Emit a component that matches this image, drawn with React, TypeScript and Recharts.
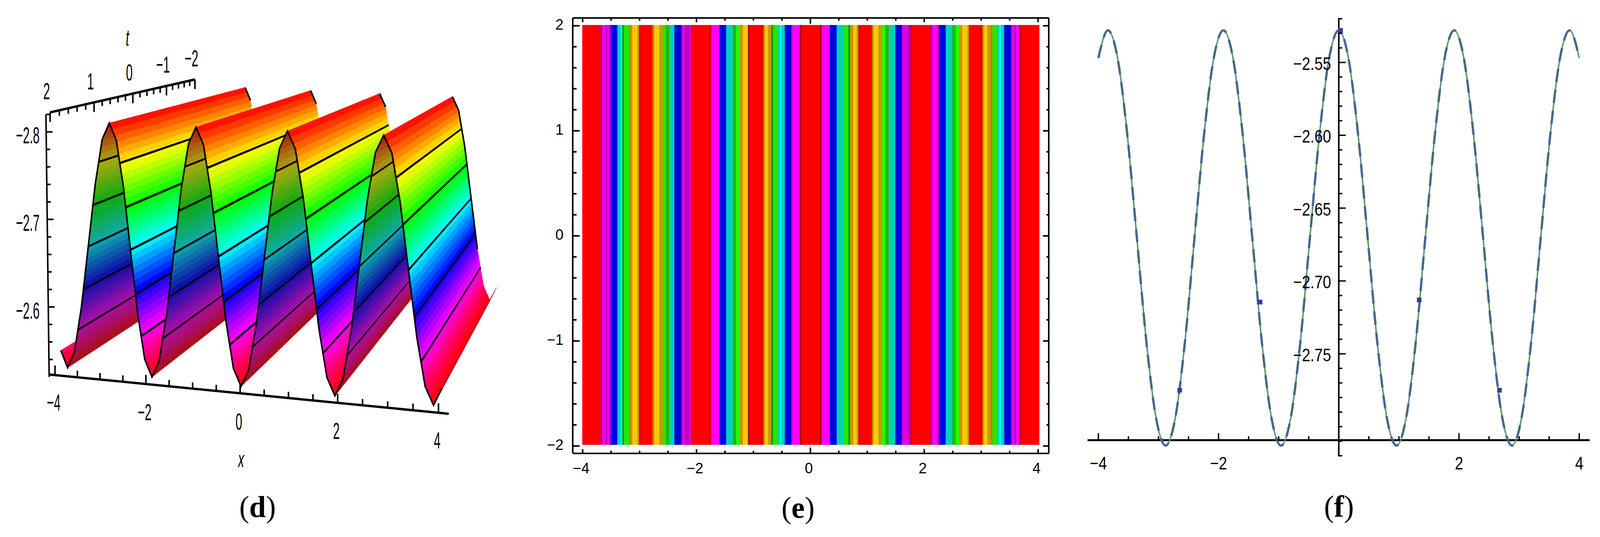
import { Area, ComposedChart, Line, ReferenceLine, Scatter, XAxis, YAxis } from "recharts";

// shared profile: u(x) at fixed t (d) and (f)
const profileX = [
  -4, -3.84, -3.68, -3.52, -3.36, -3.2, -3.04, -2.88, -2.72, -2.56, -2.4, -2.24, -2.08, -1.92, -1.76, -1.6, -1.44,
  -1.28, -1.12, -0.96, -0.8, -0.64, -0.48, -0.32, -0.16, 0, 0.16, 0.32, 0.48, 0.64, 0.8, 0.96, 1.12, 1.28, 1.44, 1.6,
  1.76, 1.92, 2.08, 2.24, 2.4, 2.56, 2.72, 2.88, 3.04, 3.2, 3.36, 3.52, 3.68, 3.84, 4,
];
const profileU = [
  -2.547, -2.528, -2.547, -2.599, -2.67, -2.742, -2.794, -2.813, -2.794, -2.742, -2.67, -2.599, -2.547, -2.528, -2.547,
  -2.599, -2.67, -2.742, -2.794, -2.813, -2.794, -2.742, -2.67, -2.599, -2.547, -2.528, -2.547, -2.599, -2.67, -2.742,
  -2.794, -2.813, -2.794, -2.742, -2.67, -2.599, -2.547, -2.528, -2.547, -2.599, -2.67, -2.742, -2.794, -2.813, -2.794,
  -2.742, -2.67, -2.599, -2.547, -2.528, -2.547,
];

// panel (d)
const dContours = [-2.768, -2.718, -2.67, -2.62, -2.573];
const dXTicks = [-4, -3.5, -3, -2.5, -2, -1.5, -1, -0.5, 0, 0.5, 1, 1.5, 2, 2.5, 3, 3.5, 4];
const dXLabels = [-4, -2, 0, 2, 4];
const dTTicks = [2, 1.8, 1.6, 1.4, 1.2, 1, 0.8, 0.6, 0.4, 0.2, 0, -0.2, -0.4, -0.6, -0.8, -1, -1.2, -1.4, -1.6, -1.8, -2];
const dTLabels = [2, 1, 0, -1, -2];
const dZTicks = [-2.82, -2.8, -2.78, -2.76, -2.74, -2.72, -2.7, -2.68, -2.66, -2.64, -2.62, -2.6, -2.58, -2.56, -2.54];
const dZLabels = [-2.8, -2.7, -2.6];
const dBackDepth = [0.12, 0.12, 0.13, 0.9];

// panel (e)
const stripeEdges = [
  -4.007, -3.686, -3.655, -3.596, -3.567, -3.538, -3.508, -3.392, -3.333, -3.304, -3.275, -3.185, -3.156, -3.127,
  -3.039, -3.009, -2.98, -2.776, -2.744, -2.655, -2.596, -2.535, -2.479, -2.389, -2.272, -2.243, -2.214, -2.124,
  -2.097, -1.771, -1.742, -1.598, -1.479, -1.362, -1.303, -1.243, -1.185, -1.097, -1.067, -0.861, -0.831, -0.802,
  -0.744, -0.686, -0.656, -0.566, -0.537, -0.508, -0.45, -0.332, -0.303, -0.187, -0.157, 0.169, 0.196, 0.342, 0.461,
  0.578, 0.668, 0.697, 0.753, 0.814, 0.843, 0.872, 1.079, 1.108, 1.196, 1.256, 1.315, 1.376, 1.492, 1.61, 1.728, 1.758,
  1.787, 2.111, 2.14, 2.23, 2.259, 2.376, 2.493, 2.551, 2.61, 2.668, 2.758, 2.785, 2.994, 3.021, 3.05, 3.109, 3.169,
  3.198, 3.289, 3.318, 3.347, 3.405, 3.522, 3.552, 3.581, 3.61, 3.668, 3.697, 4.019,
];
const R = "#ff0000", DR = "#b00000", DR2 = "#d00000", M = "#ff00ff", DM = "#c000c0", DM2 = "#e000e0", PM = "#a800a0";
const B = "#0000e0", T = "#00d0b8", C = "#00ffff", DG = "#109000", G = "#20e800", BG = "#20ff00", MG = "#20b800";
const DO = "#b08800", O = "#ffc800", LO = "#c89800";
const stripeColors = [
  R, PM, M, DM, M, DM, B, T, C, DG, G, DO, LO, O, LO, DR2, R, DO, O, LO, G, MG, T, B, PM, M, DM, DM2, R, DR2, M, B, T,
  MG, BG, LO, O, DR, R, DR2, DO, O, LO, DG, G, T, C, T, B, DM2, M, DR, R, DR, M, B, T, G, DG, LO, O, LO, DR2, R, DO, O,
  LO, BG, MG, T, B, DM2, PM, DR2, R, PM, M, DM, B, T, MG, BG, LO, O, LO, R, DR2, LO, O, LO, DO, G, T, C, T, B, DM, M,
  DM, M, DR, R,
];
const eXTicks = [-4, -3.5, -3, -2.5, -2, -1.5, -1, -0.5, 0, 0.5, 1, 1.5, 2, 2.5, 3, 3.5, 4];
const eYTicks = [
  -2, -1.8, -1.6, -1.4, -1.2, -1, -0.8, -0.6, -0.4, -0.2, 0, 0.2, 0.4, 0.6, 0.8, 1, 1.2, 1.4, 1.6, 1.8, 2,
];

// panel (f)
const fXTicks = [-4, -3.5, -3, -2.5, -2, -1.5, -1, -0.5, 0, 0.5, 1, 1.5, 2, 2.5, 3, 3.5, 4];
const fXLabels = [-4, -2, 2, 4];
const fYTicks = [
  -2.82, -2.81, -2.8, -2.79, -2.78, -2.77, -2.76, -2.75, -2.74, -2.73, -2.72, -2.71, -2.7, -2.69, -2.68, -2.67, -2.66,
  -2.65, -2.64, -2.63, -2.62, -2.61, -2.6, -2.59, -2.58, -2.57, -2.56, -2.55, -2.54, -2.53, -2.52,
];
const fYLabels = [-2.75, -2.7, -2.65, -2.6, -2.55];
const fMarkerX = [-2.646, -1.309, 0.03, 1.337, 2.674];
const fMarkerU = [-2.775, -2.7145, -2.528, -2.713, -2.775];

const SANS = "'Liberation Sans', sans-serif";
const minus = (s: string) => s.replace("-", "\u2212");

// --- (d): perspective projection into the chart's screen units
const zPeak = -2.813;
const zTrough = -2.528;
const VANISH = [2014, -65];
const DEPTH = 0.245;

const front = (x: number, z: number) => {
  const h = (zTrough - z) / (zTrough - zPeak);
  return {
    x: 685 + 149.7 * x + 2.03 * x * x,
    y: (1128 + 14.3 * x) * (1 - h) + (377 + 6.1 * x) * h,
  };
};
const back = (p: { x: number; y: number }) => ({
  x: p.x + DEPTH * (VANISH[0] - p.x),
  y: p.y + DEPTH * (VANISH[1] - p.y),
});
const xAxisPt = (x: number) => ({ x: 682 + 150.6 * x + 1.3 * x * x, y: 1150 + 13.75 * x });
const tAxisPt = (t: number) => {
  const x = 345 - 113.75 * t - 8.1 * t * t;
  return { x, y: 328 - (x - 85) * 0.211 };
};
const zAxisPt = (z: number) => {
  const y = 385 + (z + 2.8) * 2555;
  return { x: 72 + (y - 335) * 0.0131, y };
};

// polygon -> x-sorted [low, high] band, which is what a range Area draws
const band = (poly: { x: number; y: number }[]) => {
  const xs = Array.from(new Set(poly.map((p) => p.x))).sort((a, b) => a - b);
  return xs.map((x) => {
    const ys: number[] = [];
    poly.forEach((p, i) => {
      const q = poly[(i + 1) % poly.length];
      if (p.x === x) ys.push(p.y);
      if ((p.x - x) * (q.x - x) < 0) ys.push(p.y + ((x - p.x) / (q.x - p.x)) * (q.y - p.y));
    });
    return { x, y: [Math.min(...ys), Math.max(...ys)] };
  });
};

type Pt = { x: number; z: number };
const runs: Pt[][] = [];
profileX.forEach((x, i) => {
  const pt = { x, z: profileU[i] };
  if (i === 0) {
    runs.push([pt]);
    return;
  }
  const cur = runs[runs.length - 1];
  if (cur.length > 1 && Math.sign(pt.z - cur[cur.length - 1].z) !== Math.sign(cur[1].z - cur[0].z)) {
    runs.push([cur[cur.length - 1], pt]);
  } else {
    cur.push(pt);
  }
});

const xAtLevel = (run: Pt[], z: number) => {
  for (let i = 0; i < run.length - 1; i++) {
    const a = run[i], b = run[i + 1];
    if ((a.z - z) * (b.z - z) <= 0) return a.x + ((z - a.z) / (b.z - a.z)) * (b.x - a.x);
  }
  return run[0].x;
};

const SLABS = 40;
type Slab = { key: string; fill: string; data: { x: number; y: number[] }[] };
const faces: Slab[] = [];
runs.forEach((run, r) => {
  const zs = run.map((p) => p.z);
  const lo = Math.min(...zs), hi = Math.max(...zs);
  const rising = run[1].z < run[0].z;
  const slab = (a: number, b: number, fill: string, key: string) => {
    const f1 = front(xAtLevel(run, a), a);
    const f2 = front(xAtLevel(run, b), b);
    faces.push({ key, fill, data: band([f1, f2, back(f2), back(f1)]) });
  };
  const step = (zTrough - zPeak) / SLABS;
  for (let k = 0; k < SLABS; k++) {
    const a = Math.max(zPeak + k * step, lo);
    const b = Math.min(zPeak + (k + 1) * step, hi);
    if (b <= a) continue;
    const hue = (360 * (k + 0.5)) / SLABS;
    slab(a, b, rising ? `hsl(${hue},85%,36%)` : `hsl(${hue},100%,50%)`, `s${r}-${k}`);
  }
  dContours.forEach((c, k) => {
    if (c > lo && c < hi) slab(c - 0.0011, c + 0.0011, "#000", `c${r}-${k}`);
  });
});

const gapped = (segs: { x: number; y: number }[][]) =>
  segs.flatMap((s) => [...s, { x: s[s.length - 1].x, y: null as unknown as number }]);

const dTickLines = gapped([
  ...dXTicks.map((v) => {
    const p = xAxisPt(v);
    return [p, { x: p.x, y: p.y - (v % 2 === 0 ? 28 : 20) }];
  }),
  ...dTTicks.map((v) => {
    const p = tAxisPt(v);
    return [p, { x: p.x, y: p.y + (Number.isInteger(v) ? 28 : 16) }];
  }),
]);
const dZTickLines = gapped(
  dZTicks.map((v) => {
    const p = zAxisPt(v);
    return [p, { x: p.x + (dZLabels.includes(v) ? 20 : 12), y: p.y }];
  }),
);
const dBackEdges = gapped(
  runs
    .filter((run) => run[0].z === zPeak)
    .map((run, i) =>
      run.filter((p) => (p.z - zPeak) / (zTrough - zPeak) <= dBackDepth[i]).map((p) => back(front(p.x, p.z))),
    ),
);
const dLabels = [
  ...dXLabels.map((v) => ({ x: xAxisPt(v).x - 4, y: xAxisPt(v).y + 80, text: minus(String(v)), anchor: "middle" })),
  ...dTLabels.map((v) => ({ x: tAxisPt(v).x - 11, y: tAxisPt(v).y - 62, text: minus(String(v)), anchor: "middle" })),
  ...dZLabels.map((v) => ({ x: 52, y: zAxisPt(v).y + 10, text: minus(v.toFixed(1)), anchor: "end" })),
  { x: 685, y: 1340, text: "x", anchor: "middle", italic: true },
  { x: 328, y: 110, text: "t", anchor: "middle", italic: true },
];

const DLabel = ({ cx, cy, payload }: any) => (
  <text
    transform={`translate(${cx},${cy}) scale(0.52,1)`}
    textAnchor={payload.anchor}
    dominantBaseline="central"
    fontFamily={SANS}
    fontStyle={payload.italic ? "italic" : "normal"}
    fontSize={60}
    fill="#000"
  >
    {payload.text}
  </text>
);

function PanelD() {
  return (
    <ComposedChart width={1360} height={1375} margin={{ top: 0, right: 0, bottom: 0, left: 0 }}>
      <XAxis type="number" dataKey="x" domain={[-72.36, 1567.8]} allowDataOverflow hide />
      <YAxis type="number" dataKey="y" domain={[0, 1567.5]} reversed allowDataOverflow hide />
      {faces.map((f) => (
        <Area
          key={f.key}
          data={f.data}
          dataKey="y"
          type="linear"
          fill={f.fill}
          fillOpacity={1}
          stroke={f.fill}
          strokeWidth={1}
          dot={false}
          activeDot={false}
          isAnimationActive={false}
        />
      ))}
      <Line
        data={profileX.map((x, i) => front(x, profileU[i]))}
        dataKey="y"
        type="linear"
        stroke="#000"
        strokeWidth={4}
        dot={false}
        isAnimationActive={false}
      />
      <Line data={dBackEdges} dataKey="y" stroke="#000" strokeWidth={4} dot={false} isAnimationActive={false} />
      <Line
        data={[xAxisPt(-4.13), xAxisPt(4.2)]}
        dataKey="y"
        stroke="#000"
        strokeWidth={6}
        dot={false}
        isAnimationActive={false}
      />
      <Line
        data={[tAxisPt(2), tAxisPt(1), tAxisPt(0), tAxisPt(-1), tAxisPt(-2)]}
        dataKey="y"
        stroke="#000"
        strokeWidth={6}
        dot={false}
        isAnimationActive={false}
      />
      <Line
        data={[zAxisPt(-2.82), zAxisPt(-2.52)]}
        dataKey="y"
        stroke="#000"
        strokeWidth={4}
        dot={false}
        isAnimationActive={false}
      />
      <Line data={dTickLines} dataKey="y" stroke="#000" strokeWidth={4} dot={false} isAnimationActive={false} />
      <Line data={dZTickLines} dataKey="y" stroke="#000" strokeWidth={4} dot={false} isAnimationActive={false} />
      <Scatter data={dLabels} dataKey="y" shape={DLabel} isAnimationActive={false} />
    </ComposedChart>
  );
}

// --- (e)
const eTickLength = (v: number) => (v === 0 ? 17 : v % 2 === 0 ? 13 : 9);

const EBottomTick = ({ x, y, payload }: any) => (
  <g>
    <line x1={x} x2={x} y1={y} y2={y - eTickLength(payload.value)} stroke="#000" strokeWidth={4} />
    {payload.value % 2 === 0 && (
      <text x={x - 4} y={y + 36} textAnchor="middle" dominantBaseline="central" fontFamily={SANS} fontSize={38}>
        {minus(String(payload.value))}
      </text>
    )}
  </g>
);
const ETopTick = ({ x, y, payload }: any) => (
  <line x1={x} x2={x} y1={y} y2={y + eTickLength(payload.value)} stroke="#000" strokeWidth={4} />
);
const ELeftTick = ({ x, y, payload }: any) => {
  const major = Number.isInteger(payload.value);
  return (
    <g>
      <line x1={x} x2={x + (major ? 20 : 12)} y1={y} y2={y} stroke="#000" strokeWidth={4} />
      {major && (
        <text x={x - 22} y={y - 3} textAnchor="end" dominantBaseline="central" fontFamily={SANS} fontSize={38}>
          {minus(String(payload.value))}
        </text>
      )}
    </g>
  );
};
const ERightTick = ({ x, y, payload }: any) => (
  <line x1={x} x2={x - (Number.isInteger(payload.value) ? 17 : 8)} y1={y} y2={y} stroke="#000" strokeWidth={4} />
);

function PanelE() {
  return (
    <ComposedChart width={1400} height={1260} margin={{ top: 45, right: 67, bottom: 98, left: 91 }}>
      <XAxis
        xAxisId="b"
        type="number"
        dataKey="x"
        domain={[-4.174, 4.187]}
        allowDataOverflow
        ticks={eXTicks}
        interval={0}
        height={1}
        tickSize={0}
        tickLine={false}
        tick={EBottomTick}
        axisLine={{ stroke: "#000", strokeWidth: 4 }}
      />
      <XAxis
        xAxisId="t"
        orientation="top"
        type="number"
        dataKey="x"
        domain={[-4.174, 4.187]}
        allowDataOverflow
        ticks={eXTicks}
        interval={0}
        height={1}
        tickSize={0}
        tickLine={false}
        tick={ETopTick}
        axisLine={{ stroke: "#000", strokeWidth: 4 }}
      />
      <YAxis
        yAxisId="l"
        type="number"
        domain={[-2.071, 2.074]}
        allowDataOverflow
        ticks={eYTicks}
        interval={0}
        width={1}
        tickSize={0}
        tickLine={false}
        tick={ELeftTick}
        axisLine={{ stroke: "#000", strokeWidth: 4 }}
      />
      <YAxis
        yAxisId="r"
        orientation="right"
        type="number"
        domain={[-2.071, 2.074]}
        allowDataOverflow
        ticks={eYTicks}
        interval={0}
        width={1}
        tickSize={0}
        tickLine={false}
        tick={ERightTick}
        axisLine={{ stroke: "#000", strokeWidth: 4 }}
      />
      {stripeColors.map((c, i) => (
        <Area
          key={i}
          xAxisId="b"
          yAxisId="l"
          data={[
            { x: stripeEdges[i], y: [-1.989, 2.007] },
            { x: stripeEdges[i + 1] + 0.004, y: [-1.989, 2.007] },
          ]}
          dataKey="y"
          type="linear"
          fill={c}
          fillOpacity={1}
          stroke="none"
          dot={false}
          activeDot={false}
          isAnimationActive={false}
        />
      ))}
    </ComposedChart>
  );
}

// --- (f)
const F_ORIGIN_DX = 654.6; // plot left edge to x = 0
const F_ORIGIN_DY = 40; // plot bottom edge to the x axis line

const FXTick = ({ x, y, payload }: any) => {
  const yy = y - F_ORIGIN_DY;
  const major = payload.value % 2 === 0;
  return (
    <g>
      <line x1={x} x2={x} y1={yy} y2={yy - (major ? 20 : 12)} stroke="#000" strokeWidth={3.5} />
      {fXLabels.includes(payload.value) && (
        <text
          transform={`translate(${x},${yy + 57}) scale(0.85,1)`}
          textAnchor="middle"
          dominantBaseline="central"
          fontFamily={SANS}
          fontSize={46}
        >
          {minus(String(payload.value))}
        </text>
      )}
    </g>
  );
};
const FYTick = ({ x, y, payload }: any) => {
  const xx = x + F_ORIGIN_DX;
  const labelled = fYLabels.includes(payload.value);
  return (
    <g>
      <line x1={xx} x2={xx + (labelled ? 20 : 11)} y1={y} y2={y} stroke="#000" strokeWidth={3.5} />
      {labelled && (
        <text
          transform={`translate(${xx - 18},${y + 3}) scale(0.85,1)`}
          textAnchor="end"
          dominantBaseline="central"
          fontFamily={SANS}
          fontSize={46}
        >
          {minus(payload.value.toFixed(2))}
        </text>
      )}
    </g>
  );
};
const FMarker = ({ cx, cy }: any) => <rect x={cx - 6} y={cy - 6} width={12} height={12} fill="#3d3a9a" />;

function PanelF() {
  const curve = profileX.map((x, i) => ({ x, y: profileU[i] }));
  const markers = fMarkerX.map((x, i) => ({ x, y: fMarkerU[i] }));
  return (
    <ComposedChart width={1388} height={1200} margin={{ top: 28, right: 27, bottom: 52, left: 52 }}>
      <XAxis
        type="number"
        dataKey="x"
        domain={[-4.18, 4.173]}
        allowDataOverflow
        ticks={fXTicks}
        interval={0}
        height={1}
        tickSize={0}
        tickLine={false}
        axisLine={false}
        tick={FXTick}
      />
      <YAxis
        type="number"
        dataKey="y"
        domain={[-2.82, -2.52]}
        allowDataOverflow
        ticks={fYTicks}
        interval={0}
        width={1}
        tickSize={0}
        tickLine={false}
        axisLine={false}
        tick={FYTick}
      />
      <ReferenceLine y={-2.8093} stroke="#000" strokeWidth={5} />
      <ReferenceLine x={0} stroke="#000" strokeWidth={4} />
      <Line data={curve} dataKey="y" type="monotone" stroke="#5c9a70" strokeWidth={4} dot={false} isAnimationActive={false} />
      <Line
        data={curve}
        dataKey="y"
        type="monotone"
        stroke="#46668e"
        strokeWidth={6}
        strokeDasharray="34 20"
        dot={false}
        isAnimationActive={false}
      />
      <Scatter data={markers} dataKey="y" shape={FMarker} isAnimationActive={false} />
    </ComposedChart>
  );
}

const Caption = ({ cx, cy, letter }: { cx: number; cy: number; letter: string }) => (
  <div
    style={{
      position: "absolute",
      left: cx - 100,
      top: cy - 50,
      width: 200,
      height: 100,
      lineHeight: "100px",
      textAlign: "center",
      fontFamily: "'Liberation Serif', serif",
      fontSize: 78,
      color: "#000",
    }}
  >
    (<b>{letter}</b>)
  </div>
);

// the browser window tops out at 4096px wide, so the 4168px layout is squeezed to fit
const FIT_X = 4096 / 4168;

export default function App() {
  return (
    <div
      style={{
        position: "absolute",
        left: 0,
        top: 0,
        width: 4168,
        height: 1375,
        background: "#fff",
        overflow: "hidden",
        transform: `scaleX(${FIT_X})`,
        transformOrigin: "0 0",
      }}
    >
      <div style={{ position: "absolute", left: 0, top: 0 }}>
        <PanelD />
      </div>
      <div style={{ position: "absolute", left: 1400, top: 0 }}>
        <PanelE />
      </div>
      <div style={{ position: "absolute", left: 2780, top: 20 }}>
        <PanelF />
      </div>
      <Caption cx={671} cy={1298} letter="d" />
      <Caption cx={2079} cy={1300} letter="e" />
      <Caption cx={3488} cy={1297} letter="f" />
    </div>
  );
}
